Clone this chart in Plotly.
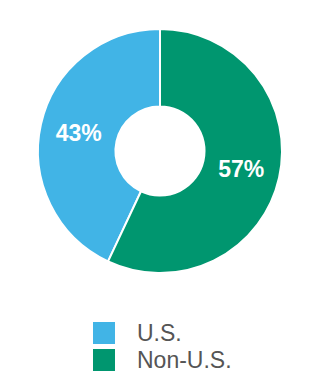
import plotly.graph_objects as go

labels = ["U.S.", "Non-U.S."]
values = [43, 57]
colors = ["#41B4E6", "#00966F"]

W, H = 320, 380
cx, cy, R = 160, 151, 122

fig = go.Figure()
fig.add_trace(go.Pie(
    labels=labels,
    values=values,
    hole=0.365,
    sort=False,
    direction="clockwise",
    rotation=-values[0] / sum(values) * 360,
    marker=dict(colors=colors, line=dict(color="white", width=2)),
    texttemplate="%{value}%",
    textposition="inside",
    insidetextorientation="horizontal",
    textfont=dict(family="Liberation Sans, Arial, sans-serif", size=23, color="white", weight="bold"),
    showlegend=False,
    hoverinfo="label+percent",
    domain=dict(x=[(cx - R) / W, (cx + R) / W], y=[1 - (cy + R) / H, 1 - (cy - R) / H]),
))

# custom legend (large square swatches)
leg_x0 = 93
leg_size = 22
leg_y0 = [322, 349]
for i, (lab, col) in enumerate(zip(labels, colors)):
    y0 = leg_y0[i]
    fig.add_shape(type="rect", xref="paper", yref="paper",
                  x0=leg_x0 / W, x1=(leg_x0 + leg_size) / W,
                  y0=1 - (y0 + leg_size) / H, y1=1 - y0 / H,
                  fillcolor=col, line=dict(width=0))
    fig.add_annotation(xref="paper", yref="paper", x=135 / W, y=1 - (y0 + leg_size / 2) / H,
                       text=lab, showarrow=False, xanchor="left", yanchor="middle",
                       font=dict(family="Liberation Sans, Arial, sans-serif", size=23, color="#555555"))

fig.update_layout(
    width=W, height=H,
    margin=dict(l=0, r=0, t=0, b=0),
    paper_bgcolor="white", plot_bgcolor="white",
)

fig.write_html("out.html")
